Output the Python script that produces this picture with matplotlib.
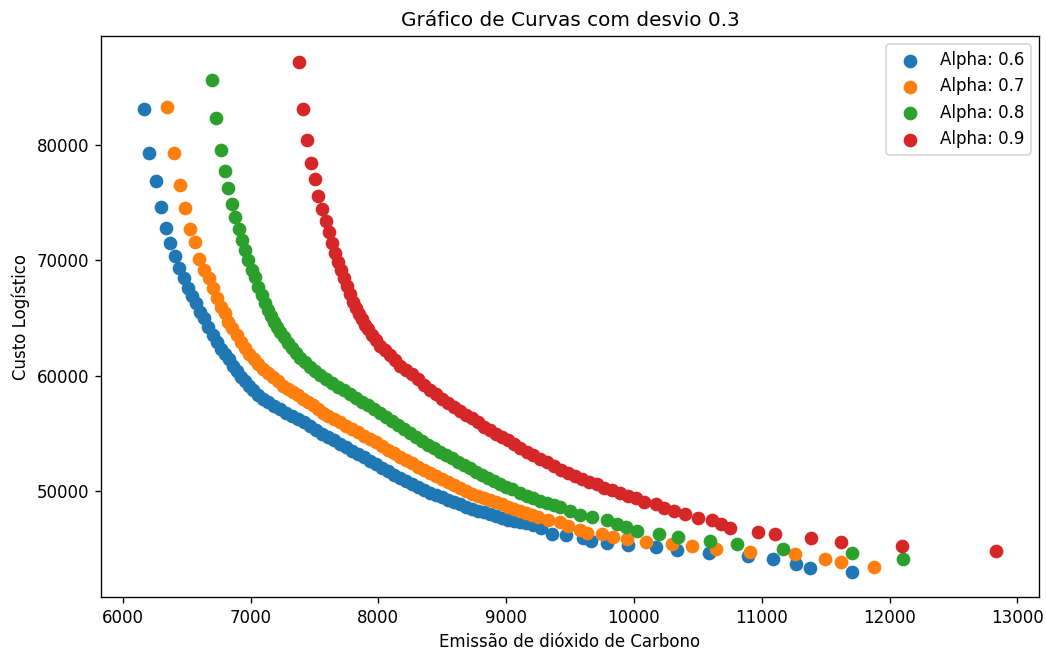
import matplotlib
matplotlib.use("Agg")
import matplotlib.pyplot as plt

# (emissao CO2, custo logistico), one list per alpha
alpha_06 = [
    (6164, 83123), (6204, 79308), (6258, 76880), (6298, 74626), (6337, 72805),
    (6368, 71504), (6407, 70377), (6438, 69336), (6478, 68469), (6509, 67602),
    (6540, 66908), (6572, 66301), (6603, 65521), (6634, 65001), (6666, 64220),
    (6705, 63527), (6736, 62920), (6767, 62313), (6799, 61879), (6830, 61446),
    (6861, 60839), (6893, 60405), (6924, 59885), (6955, 59538), (6987, 59105),
    (7018, 58758), (7057, 58324), (7096, 57977), (7135, 57717), (7182, 57370),
    (7229, 57110), (7276, 56763), (7323, 56503), (7370, 56243), (7417, 55983),
    (7464, 55636), (7511, 55289), (7558, 54942), (7605, 54682), (7652, 54422),
    (7699, 54075), (7746, 53815), (7793, 53468), (7840, 53208), (7887, 52948),
    (7934, 52601), (7981, 52341), (8028, 51994), (8075, 51734), (8122, 51387),
    (8169, 51127), (8216, 50867), (8263, 50607), (8310, 50347), (8357, 50087),
    (8404, 49827), (8451, 49653), (8498, 49480), (8545, 49220), (8592, 49046),
    (8639, 48873), (8686, 48613), (8733, 48439), (8780, 48266), (8827, 48179),
    (8874, 48006), (8921, 47832), (8968, 47659), (9015, 47486), (9062, 47399),
    (9109, 47312), (9156, 47225), (9210, 47052), (9273, 46792), (9359, 46272),
    (9469, 46185), (9602, 45925), (9664, 45665), (9790, 45491), (9954, 45318),
    (10173, 45144), (10338, 44884), (10588, 44624), (10894, 44364), (11090, 44190),
    (11270, 43756), (11379, 43410), (11708, 43063),
]

alpha_07 = [
    (6345, 83297), (6399, 79308), (6446, 76533), (6485, 74539), (6525, 72718),
    (6564, 71591), (6595, 70117), (6634, 69163), (6673, 68469), (6705, 67602),
    (6736, 66735), (6767, 65955), (6799, 65434), (6822, 64654), (6853, 64134),
    (6893, 63527), (6924, 62920), (6955, 62400), (6987, 61879), (7026, 61446),
    (7057, 61012), (7096, 60579), (7135, 60232), (7175, 59885), (7214, 59538),
    (7253, 59105), (7292, 58844), (7331, 58584), (7370, 58324), (7409, 57977),
    (7449, 57717), (7488, 57457), (7527, 57110), (7566, 56763), (7605, 56503),
    (7652, 56243), (7699, 55983), (7746, 55636), (7793, 55376), (7840, 55116),
    (7887, 54769), (7934, 54509), (7981, 54249), (8028, 53902), (8075, 53555),
    (8122, 53295), (8169, 52948), (8216, 52688), (8263, 52428), (8310, 52081),
    (8357, 51821), (8404, 51561), (8451, 51301), (8498, 51041), (8545, 50780),
    (8592, 50520), (8639, 50260), (8686, 50000), (8733, 49740), (8780, 49566),
    (8827, 49393), (8874, 49220), (8921, 49046), (8968, 48873), (9015, 48613),
    (9062, 48439), (9109, 48266), (9156, 48092), (9203, 47919), (9249, 47746),
    (9328, 47486), (9422, 47312), (9484, 46965), (9578, 46618), (9633, 46358),
    (9751, 46272), (9837, 46011), (9946, 45838), (10095, 45578), (10299, 45404),
    (10455, 45231), (10643, 44971), (10909, 44711), (11262, 44537), (11497, 44190),
    (11622, 43844), (11880, 43497),
]

alpha_08 = [
    (6697, 85638), (6728, 82343), (6767, 79568), (6799, 77747), (6822, 76273),
    (6853, 74886), (6877, 73759), (6908, 72718), (6932, 71764), (6955, 70897),
    (6979, 70030), (7010, 69163), (7034, 68556), (7057, 67689), (7088, 66995),
    (7112, 66301), (7135, 65695), (7159, 65174), (7182, 64654), (7206, 64220),
    (7229, 63787), (7261, 63353), (7292, 62833), (7323, 62400), (7355, 61966),
    (7386, 61532), (7425, 61186), (7464, 60752), (7503, 60405), (7543, 60058),
    (7589, 59712), (7636, 59365), (7683, 59018), (7730, 58758), (7777, 58411),
    (7824, 58064), (7871, 57717), (7918, 57457), (7965, 57110), (8012, 56763),
    (8059, 56417), (8106, 56070), (8153, 55723), (8200, 55376), (8247, 55029),
    (8294, 54682), (8341, 54336), (8388, 53989), (8435, 53729), (8482, 53382),
    (8529, 53122), (8576, 52861), (8623, 52515), (8670, 52254), (8717, 51994),
    (8764, 51647), (8811, 51387), (8858, 51127), (8905, 50867), (8952, 50607),
    (8999, 50347), (9046, 50173), (9109, 49827), (9163, 49566), (9210, 49393),
    (9265, 49133), (9320, 48959), (9375, 48786), (9422, 48613), (9500, 48266),
    (9578, 47919), (9672, 47746), (9790, 47486), (9868, 47139), (9938, 46878),
    (10025, 46532), (10197, 46272), (10346, 46011), (10596, 45665), (10808, 45404),
    (11168, 44971), (11708, 44624), (12107, 44190),
]

alpha_09 = [
    (7378, 87199), (7409, 83123), (7441, 80435), (7472, 78441), (7503, 77054),
    (7527, 75579), (7558, 74452), (7589, 73412), (7613, 72458), (7636, 71504),
    (7660, 70637), (7683, 69857), (7707, 69163), (7730, 68469), (7754, 67776),
    (7777, 67082), (7801, 66388), (7824, 65868), (7848, 65348), (7871, 64914),
    (7895, 64394), (7918, 64047), (7950, 63527), (7981, 63093), (8012, 62573),
    (8051, 62226), (8091, 61793), (8130, 61359), (8169, 60839), (8216, 60492),
    (8263, 60145), (8310, 59712), (8357, 59191), (8404, 58758), (8451, 58411),
    (8498, 57977), (8545, 57630), (8592, 57284), (8639, 56937), (8686, 56590),
    (8733, 56330), (8780, 55983), (8827, 55549), (8874, 55289), (8921, 54942),
    (8968, 54682), (9015, 54422), (9062, 54075), (9109, 53729), (9163, 53382),
    (9210, 53122), (9265, 52775), (9320, 52515), (9375, 52168), (9430, 51821),
    (9484, 51561), (9539, 51301), (9594, 51041), (9649, 50780), (9711, 50607),
    (9766, 50260), (9829, 50087), (9891, 49827), (9954, 49566), (10017, 49393),
    (10079, 49046), (10173, 48873), (10236, 48526), (10314, 48266), (10400, 48006),
    (10502, 47659), (10612, 47486), (10682, 47139), (10753, 46792), (10972, 46445),
    (11105, 46272), (11387, 45925), (11622, 45578), (12100, 45231), (12836, 44797),
]

series = [(alpha_06, "Alpha: 0.6"), (alpha_07, "Alpha: 0.7"),
          (alpha_08, "Alpha: 0.8"), (alpha_09, "Alpha: 0.9")]

fig = plt.figure(figsize=(1046 / 120, 650 / 120), dpi=120)
ax = fig.add_axes([0.0966, 0.0815, 0.8967, 0.8631])

for pts, label in series:
    xs = [p[0] for p in pts]
    ys = [p[1] for p in pts]
    ax.scatter(xs, ys, s=52, label=label)

ax.set_title("Gráfico de Curvas com desvio 0.3")
ax.set_xlabel("Emissão de dióxido de Carbono")
ax.set_ylabel("Custo Logístico")
ax.legend(loc="upper right")

fig.savefig("out.png", dpi=120)
